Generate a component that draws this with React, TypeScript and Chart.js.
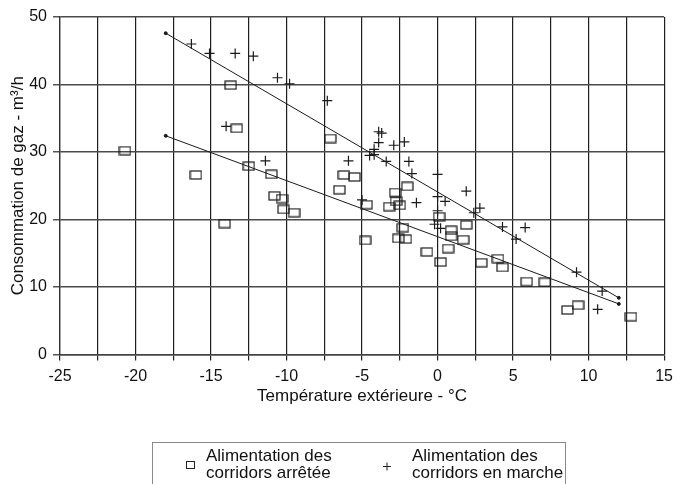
import React, { useEffect, useRef } from 'react';
import { Chart, registerables } from 'chart.js';

Chart.register(...registerables);

// Alimentation des corridors arrêtée (squares)
const offTemp = [-20.7, -16.0, -13.7, -13.3, -14.1, -12.5, -11.0, -10.8, -10.3, -10.2, -9.5, -7.1, -6.5, -6.2, -5.5, -4.7, -4.8, -3.2, -2.8, -2.75, -2.5, -2.3, -2.6, -2.1, -2.0, -0.7, 0.2, 0.1, 0.9, 0.9, 0.7, 1.7, 1.9, 2.9, 4.0, 4.3, 5.9, 7.1, 8.6, 9.3, 12.8];
const offGas = [30.2, 26.6, 39.9, 33.5, 19.4, 27.9, 26.7, 23.5, 23.1, 21.5, 21.0, 32.0, 24.4, 26.6, 26.3, 22.2, 16.9, 21.9, 24.0, 22.7, 22.1, 18.8, 17.2, 17.1, 24.9, 15.2, 13.7, 20.4, 18.4, 17.5, 15.7, 17.0, 19.2, 13.6, 14.2, 12.9, 10.8, 10.7, 6.6, 7.3, 5.6];

// Alimentation des corridors en marche (crosses)
const onTemp = [-16.3, -15.1, -13.4, -12.2, -10.6, -9.8, -7.3, -14.0, -11.4, -3.9, -3.7, -3.9, -2.9, -2.2, -4.2, -4.5, -4.2, -5.9, -3.4, -1.9, -1.7, 0.0, 1.9, 0.0, 0.5, -1.4, -5.0, 2.8, 2.4, 0.0, -0.2, 0.2, 4.3, 5.8, 5.2, 9.2, 10.9, 10.6];
const onGas = [46.0, 44.6, 44.6, 44.2, 41.0, 40.1, 37.6, 33.8, 28.7, 33.0, 32.8, 31.4, 31.0, 31.5, 30.4, 29.5, 29.6, 28.7, 28.6, 28.6, 26.8, 26.7, 24.2, 23.4, 22.7, 22.5, 22.9, 21.7, 21.0, 21.3, 19.3, 18.7, 18.9, 18.8, 17.1, 12.2, 9.4, 6.7];

// Regression lines
const fitTemp = [-18, 12];
const fitOffGas = [32.4, 7.5];
const fitOnGas = [47.6, 8.4];

const legendOff = ['Alimentation des', 'corridors arrêtée'];
const legendOn = ['Alimentation des', 'corridors en marche'];
const xTitle = 'Température extérieure - °C';
const yTitle = 'Consommation de gaz - m³/h';

const FONT = '"Liberation Sans", Arial, Helvetica, sans-serif';

function pts(xs: number[], ys: number[]) {
  return xs.map((x, i) => ({ x, y: ys[i] }));
}

function makeRectMarker(w: number, h: number) {
  const c = document.createElement('canvas');
  c.width = w;
  c.height = h;
  const g = c.getContext('2d')!;
  g.strokeStyle = '#1a1a1a';
  g.lineWidth = 1.2;
  g.strokeRect(1, 1, w - 2, h - 2);
  return c;
}

const legendPlugin = {
  id: 'boxLegend',
  afterDraw(chart: any) {
    const ctx = chart.ctx as CanvasRenderingContext2D;
    ctx.save();
    ctx.strokeStyle = '#8a8a8a';
    ctx.lineWidth = 1;
    ctx.strokeRect(152.5, 442.5, 413, 60);
    ctx.strokeStyle = '#222';
    ctx.lineWidth = 1;
    ctx.strokeRect(186.5, 461.5, 8, 7);
    ctx.beginPath();
    ctx.moveTo(383, 466.5);
    ctx.lineTo(391, 466.5);
    ctx.moveTo(387, 462.5);
    ctx.lineTo(387, 470.5);
    ctx.stroke();
    ctx.fillStyle = '#111';
    ctx.font = '17px ' + FONT;
    ctx.textBaseline = 'middle';
    legendOff.forEach((t, i) => ctx.fillText(t, 206, 456 + i * 17));
    legendOn.forEach((t, i) => ctx.fillText(t, 412, 456 + i * 17));
    ctx.restore();
  },
};

export default function App() {
  const ref = useRef<HTMLCanvasElement | null>(null);
  useEffect(() => {
    document.body.style.margin = '0';
    const canvas = ref.current!;
    const rectMarker = makeRectMarker(13, 10);
    const chart = new Chart(canvas, {
      type: 'scatter',
      data: {
        datasets: [
          {
            label: legendOff.join(' '),
            data: pts(offTemp, offGas),
            pointStyle: rectMarker as any,
            pointRadius: 5,
            showLine: false,
          },
          {
            label: legendOn.join(' '),
            data: pts(onTemp, onGas),
            pointStyle: 'cross',
            pointRadius: 5,
            pointBorderWidth: 1.2,
            pointBorderColor: '#1a1a1a',
            showLine: false,
          },
          {
            label: 'fit off',
            data: pts(fitTemp, fitOffGas),
            showLine: true,
            borderColor: '#1a1a1a',
            borderWidth: 1,
            pointRadius: 1.5,
            pointBackgroundColor: '#1a1a1a',
            pointBorderColor: '#1a1a1a',
          },
          {
            label: 'fit on',
            data: pts(fitTemp, fitOnGas),
            showLine: true,
            borderColor: '#1a1a1a',
            borderWidth: 1,
            pointRadius: 1.5,
            pointBackgroundColor: '#1a1a1a',
            pointBorderColor: '#1a1a1a',
          },
        ],
      },
      options: {
        responsive: false,
        animation: false,
        devicePixelRatio: 1,
        layout: { padding: { left: 0, right: 8, top: 17, bottom: 75.5 } },
        plugins: {
          legend: { display: false },
          tooltip: { enabled: false },
        },
        scales: {
          x: {
            type: 'linear',
            min: -25,
            max: 15,
            afterFit: (s: any) => { s.height = 54; },
            ticks: {
              stepSize: 2.5,
              color: '#111',
              font: { family: FONT, size: 16 },
              padding: 6,
              maxRotation: 0,
              autoSkip: false,
              callback: (v: any) => (Number(v) % 5 === 0 ? String(v) : ''),
            },
            grid: { color: '#1e1e1e', lineWidth: 1.2, tickLength: 6, tickColor: '#222' },
            border: { color: '#444', width: 1.5 },
            title: {
              display: true,
              text: xTitle,
              color: '#111',
              font: { family: FONT, size: 17 },
              padding: { top: 0, bottom: 2 },
            },
          },
          y: {
            type: 'linear',
            min: 0,
            max: 50,
            afterFit: (s: any) => { s.width = 60; },
            ticks: {
              stepSize: 10,
              color: '#111',
              font: { family: FONT, size: 16 },
              padding: 6,
            },
            grid: { color: '#4a4a4a', lineWidth: 1.5, tickLength: 7, tickColor: '#555' },
            border: { color: '#333', width: 1.3 },
            title: {
              display: true,
              text: yTitle,
              color: '#111',
              font: { family: FONT, size: 17 },
              padding: { top: 8, bottom: 0 },
            },
          },
        },
      },
      plugins: [legendPlugin],
    });
    return () => chart.destroy();
  }, []);
  return <canvas ref={ref} width={679} height={484} style={{ display: 'block', width: 679, height: 484 }} />;
}
